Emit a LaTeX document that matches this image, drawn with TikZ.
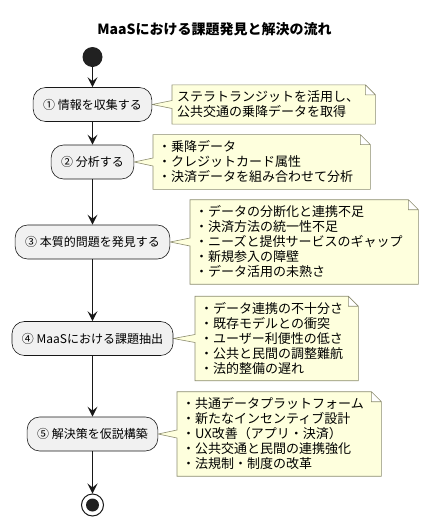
\documentclass[tikz,border=0pt]{standalone}
\usepackage{fontspec}
\setmainfont{Noto Sans CJK JP}
\usetikzlibrary{arrows.meta,calc}
\pgfdeclarelayer{background}
\pgfsetlayers{background,main}
\definecolor{boxfill}{HTML}{F1F1F1}
\definecolor{linedark}{HTML}{181818}
\definecolor{notefill}{HTML}{FEFFDD}
\definecolor{noteline}{HTML}{8C8C70}
\tikzstyle{activity}=[rectangle,rounded corners=12.5pt,draw=linedark,fill=boxfill,line width=0.6pt,minimum height=34pt,inner xsep=10pt,font=\fontsize{12}{14}\selectfont]
\tikzstyle{note}=[rectangle,inner xsep=5pt,inner ysep=6pt,align=left,anchor=west,font=\fontsize{13}{15}\selectfont]
\tikzstyle{note border}=[draw=noteline,fill=notefill,line width=0.6pt]
\tikzstyle{flow}=[draw=linedark,line width=1pt,-{Stealth[length=10pt,width=10pt,inset=4pt]}]

\begin{document}
\begin{tikzpicture}[x=1pt,y=-1pt]
	\useasboundingbox (0,0) rectangle (429,528);
	% Title, start and end
	\node[font=\fontsize{14}{16}\selectfont\bfseries] (title) at (214.5,29) {MaaSにおける課題発見と解決の流れ};
	\node[circle,fill=black!87,inner sep=0pt,minimum size=20pt] (start) at (92.5,57) {};
	\node[circle,draw=linedark,line width=1pt,fill=white,inner sep=0pt,minimum size=22pt] (stop) at (92.5,505) {};
	\fill[black!87] (stop.center) circle (6.5);

	% First we draw the activities
	\foreach \pos/\name/\txt in {{(92.5,104.5)/a1/① 情報を収集する}, {(92.5,162)/a2/② 分析する}, {(92.5,242)/a3/③ 本質的問題を発見する}, {(92.5,338.5)/a4/④ MaaSにおける課題抽出}, {(92.5,434)/a5/⑤ 解決策を仮説構築}}
	\node[activity] (\name) at \pos {\txt};

	% Then the notes beside them
	\node[note,text width=193pt] (n1) at (172,104.5) {ステラトランジットを活用し、\\公共交通の乗降データを取得};
	\node[note,text width=207pt] (n2) at (153,162) {・乗降データ\\・クレジットカード属性\\・決済データを組み合わせて分析};
	\node[note,text width=218pt] (n3) at (190,242) {・データの分断化と連携不足\\・決済方法の統一性不足\\・ニーズと提供サービスのギャップ\\・新規参入の障壁\\・データ活用の未熟さ};
	\node[note,text width=153pt] (n4) at (195,338.5) {・データ連携の不十分さ\\・既存モデルとの衝突\\・ユーザー利便性の低さ\\・公共と民間の調整難航\\・法的整備の遅れ};
	\node[note,text width=194pt] (n5) at (177,434) {・共通データプラットフォーム\\・新たなインセンティブ設計\\・UX改善（アプリ・決済）\\・公共交通と民間の連携強化\\・法規制・制度の改革};

	% Connect the steps
	\foreach \source/\dest in {start/a1, a1/a2, a2/a3, a3/a4, a4/a5, a5/stop}
	\path[flow] (\source.south) -- (\dest.north);

	\begin{pgfonlayer}{background}
		\foreach \n/\b in {n1/a1, n2/a2, n3/a3, n4/a4, n5/a5}
		\path[note border] (\n.north west) -- ($(\n.north east)+(-10,0)$) -- ($(\n.north east)+(0,10)$) -- (\n.south east) -- (\n.south west) -- ($(\n.west |- \b.east)+(0,4)$) -- (\b.east) -- ($(\n.west |- \b.east)+(0,-4)$) -- cycle
		($(\n.north east)+(-10,0)$) -- ($(\n.north east)+(-10,10)$) -- ($(\n.north east)+(0,10)$);
	\end{pgfonlayer}
\end{tikzpicture}
\end{document}
